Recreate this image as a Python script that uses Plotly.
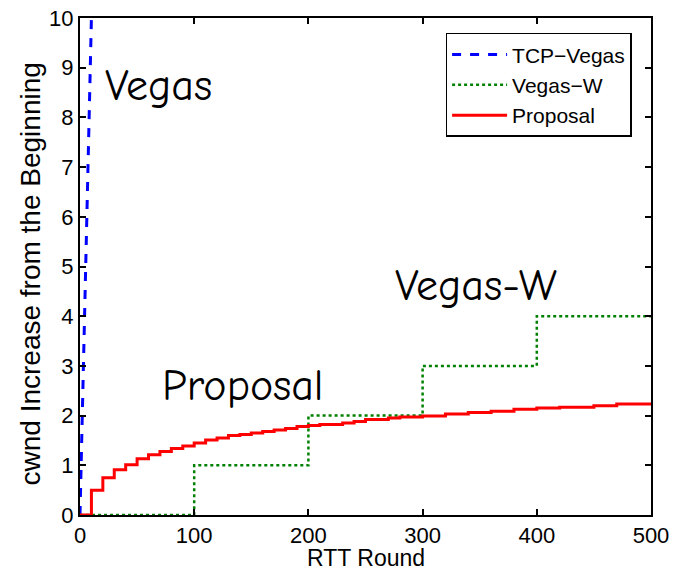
import plotly.graph_objects as go

# RTT rounds at which each algorithm's cwnd increase changes, and the values
vegas_rounds = [0, 11]
vegas_cwnd = [0, 11]

vegasw_rounds = [0, 100, 200, 300, 400, 500]
vegasw_cwnd = [0, 1, 2, 3, 4, 4]

proposal_rounds = [0, 10, 20, 30, 40, 50, 60, 70, 80, 90, 100, 110, 120, 130, 140,
                   150, 160, 170, 180, 190, 200, 210, 230, 240, 250, 270, 280, 300,
                   320, 340, 360, 380, 400, 420, 450, 470, 500]
proposal_cwnd = [0, 0.50, 0.75, 0.91, 1.01, 1.13, 1.21, 1.28, 1.34, 1.39, 1.45, 1.51,
                 1.55, 1.60, 1.62, 1.65, 1.68, 1.71, 1.74, 1.78, 1.80, 1.82, 1.85, 1.88,
                 1.92, 1.95, 1.97, 1.99, 2.03, 2.06, 2.09, 2.13, 2.155, 2.17, 2.20,
                 2.235, 2.235]

x_ticks = [0, 100, 200, 300, 400, 500]
y_ticks = list(range(0, 11))

SANS = "Liberation Sans Narrow, Liberation Sans, Arial, sans-serif"
tick_font = dict(family=SANS, size=22, color="black")
hand_font = dict(family="Comic Sans MS, Comic Neue, Noto Sans, sans-serif", size=44,
                 color="black")
title_family = "Liberation Sans, Arial, sans-serif"

fig = go.Figure()
fig.add_trace(go.Scatter(x=vegas_rounds, y=vegas_cwnd, mode="lines", name="TCP\u2212Vegas",
                         line=dict(color="#0000ff", width=3, dash="dash")))
fig.add_trace(go.Scatter(x=vegasw_rounds, y=vegasw_cwnd, mode="lines", name="Vegas\u2212W",
                         line=dict(color="#008000", width=2.5, dash="dot", shape="hv")))
fig.add_trace(go.Scatter(x=proposal_rounds, y=proposal_cwnd, mode="lines", name="Proposal",
                         line=dict(color="#ff0000", width=3, shape="hv")))

# hand-written style curve labels
fig.add_annotation(x=69, y=8.65, text="Vegas", showarrow=False, font=hand_font)
fig.add_annotation(x=142, y=2.6, text="Proposal", showarrow=False, font=hand_font)
fig.add_annotation(x=347, y=4.62, text="Vegas-W", showarrow=False, font=hand_font)

# axis titles
fig.add_annotation(xref="paper", yref="paper", x=0.5, y=0, yshift=-43,
                   text="RTT Round", showarrow=False, yanchor="middle",
                   font=dict(family=title_family, size=23, color="black"))
fig.add_annotation(xref="paper", yref="paper", x=0, y=0.5, xshift=-50, yshift=-8,
                   text="cwnd Increase from the Beginning", showarrow=False,
                   textangle=-90, xanchor="center",
                   font=dict(family=title_family, size=28, color="black"))

axis_common = dict(showline=True, linecolor="black", linewidth=2, mirror="ticks",
                   ticks="inside", ticklen=6, tickwidth=1.5, tickcolor="black",
                   showgrid=False, zeroline=False, tickfont=tick_font, automargin=False)

fig.update_xaxes(range=[0, 500], tickvals=x_ticks, **axis_common)
fig.update_yaxes(range=[0, 10], tickvals=y_ticks, **axis_common)

fig.update_layout(
    width=679, height=572,
    margin=dict(l=80, r=28, t=18, b=57),
    plot_bgcolor="white", paper_bgcolor="white",
    legend=dict(x=0.966, y=0.97, xanchor="right", yanchor="top",
                bgcolor="white", bordercolor="black", borderwidth=1.5,
                font=dict(family=title_family, size=21, color="black"),
                tracegroupgap=0, itemwidth=55),
    showlegend=True,
)

fig.write_html("out.html")
